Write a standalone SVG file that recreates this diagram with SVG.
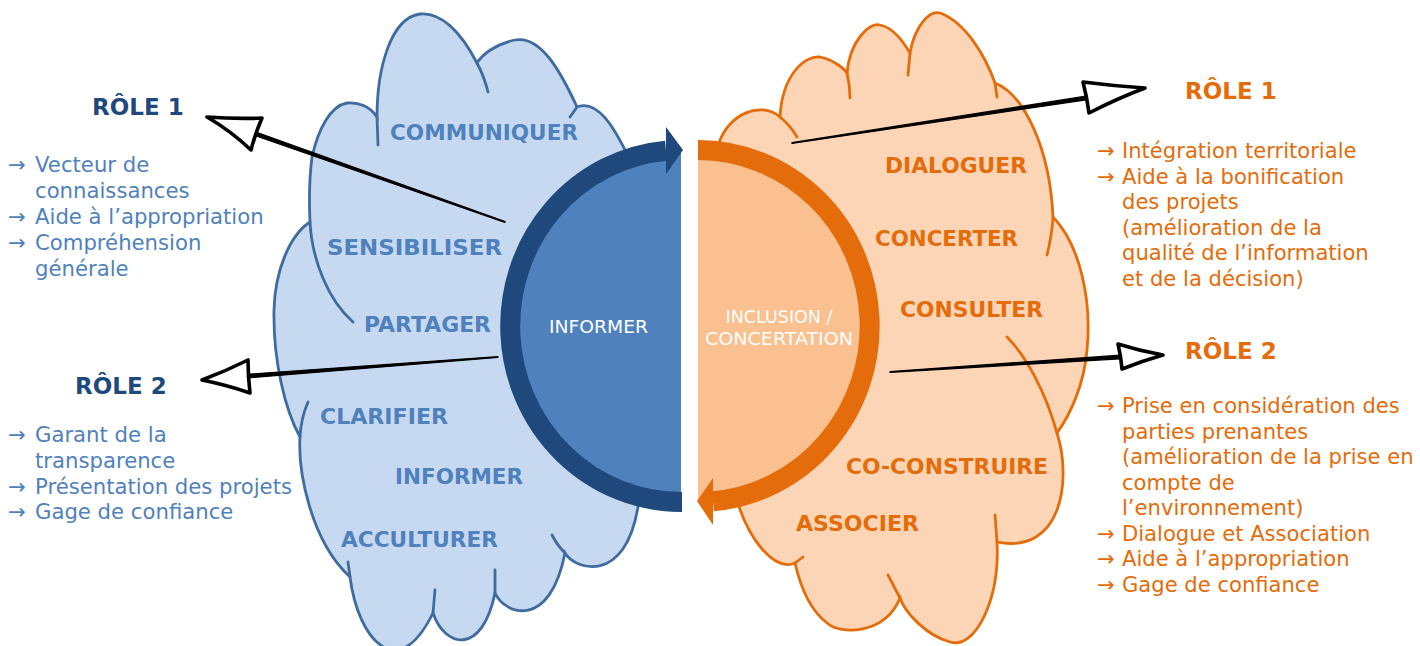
<svg xmlns="http://www.w3.org/2000/svg" width="1420" height="646" viewBox="0 0 1420 646">
<style>
.cfb{fill:#C6D9F1;stroke:none}
.cfo{fill:#FBD5B5;stroke:none}
.csb{fill:none;stroke:#3E6C9E;stroke-width:2.8;stroke-linecap:round}
.cso{fill:none;stroke:#E46C0A;stroke-width:2.8;stroke-linecap:round}
.lb{font-family:"DejaVu Sans",Verdana,sans-serif;font-weight:bold;font-size:21px;fill:#4F81BD}
.lo{font-family:"DejaVu Sans",Verdana,sans-serif;font-weight:bold;font-size:21px;fill:#E46C0A}
.hb{font-family:"DejaVu Sans",Verdana,sans-serif;font-weight:bold;font-size:23px;fill:#1F497D}
.ho{font-family:"DejaVu Sans",Verdana,sans-serif;font-weight:bold;font-size:23px;fill:#E46C0A}
.tb{font-family:"DejaVu Sans",Verdana,sans-serif;font-size:21.2px;fill:#4F81BD}
.to{font-family:"DejaVu Sans",Verdana,sans-serif;font-size:21.1px;fill:#E46C0A}
.w{font-family:"DejaVu Sans",Verdana,sans-serif;font-size:17.5px;fill:#FFFFFF}
.ptr{fill:#000;stroke:#000;stroke-width:1.2;stroke-linejoin:round}
.head{fill:#FFFFFF;stroke:#000;stroke-width:3.6;stroke-linejoin:round}
</style>

<g id="cloud-left">
<path class="cfb" d="M628 156 C613 125 598 102 580 106 L577 107 C560 70 540 35 515 40 C495 44 482 55 477 63 C460 30 440 12 420 14 C390 18 377 70 377 117 C370 106 358 102 347 103 C330 106 318 130 312 157 C309 180 309 200 310 222 C290 235 275 270 274 310 C273 360 285 410 300 437 C298 470 310 540 350 577 C358 640 398 685 433 613 C445 648 482 656 495 593 C505 615 550 630 565 553 C575 570 625 585 638 507 L660 480 L660 170 Z"/>
<path class="csb" d="M628 156 C613 125 598 102 580 106 L577 107 C560 70 540 35 515 40 C495 44 482 55 477 63 C460 30 440 12 420 14 C390 18 377 70 377 117 C370 106 358 102 347 103 C330 106 318 130 312 157 C309 180 309 200 310 222 C290 235 275 270 274 310 C273 360 285 410 300 437 C298 470 310 540 350 577 C358 640 398 685 433 613 C445 648 482 656 495 593 C505 615 550 630 565 553 C575 570 625 585 638 507"/>
<path class="csb" d="M570 117 L577 107 M477 63 Q484 76 488 92 M377 117 L378 145 M310 222 C312 260 328 300 353 322 M308 402 Q301 418 300 437 M348 562 L350 577 M435 590 L433 613 M495 570 L495 593 M552 535 Q557 545 565 553"/>
</g>

<g id="cloud-right">
<path class="cfo" d="M719 143 C728 115 760 100 780 117 C782 75 805 55 820 57 C835 60 845 70 847 73 C850 40 870 22 880 25 C895 28 905 45 910 53 C915 25 930 10 940 13 C965 22 985 55 995 83 C1025 95 1050 150 1053 217 C1080 245 1092 300 1087 350 C1084 385 1070 415 1057 433 C1072 480 1062 555 997 542 C1000 600 975 650 950 642 C925 635 905 612 900 598 C885 635 840 635 827 623 C810 610 800 585 795 563 C775 572 748 540 736 497 L705 480 L705 170 Z"/>
<path class="cso" d="M719 143 C728 115 760 100 780 117 C782 75 805 55 820 57 C835 60 845 70 847 73 C850 40 870 22 880 25 C895 28 905 45 910 53 C915 25 930 10 940 13 C965 22 985 55 995 83 C1025 95 1050 150 1053 217 C1080 245 1092 300 1087 350 C1084 385 1070 415 1057 433 C1072 480 1062 555 997 542 C1000 600 975 650 950 642 C925 635 905 612 900 598 C885 635 840 635 827 623 C810 610 800 585 795 563 C775 572 748 540 736 497"/>
<path class="cso" d="M780 117 Q790 125 797 137 M847 73 Q850 85 850 98 M910 53 L908 75 M995 83 L997 97 M1053 217 Q1052 235 1047 255 M1007 337 C1025 355 1045 390 1057 433 M995 515 L997 542 M888 575 L900 598 M803 557 L795 563"/>
</g>

<g id="informer-half">
<path d="M681 150 A171 176 0 0 0 681 502 Z" fill="#4F81BD"/>
<path d="M666 150.7 A171 176 0 0 0 682 502" fill="none" stroke="#1F497D" stroke-width="20"/>
<polygon points="666,127 683,150 666,174" fill="#1F497D"/>
<text class="w" x="549" y="333" textLength="99" lengthAdjust="spacingAndGlyphs">INFORMER</text>
</g>

<g id="inclusion-half">
<path d="M698 150 A172 176 0 0 1 698 502 Z" fill="#FAC090"/>
<path d="M698 150 A172 176 0 0 1 713 501.3" fill="none" stroke="#E46C0A" stroke-width="20"/>
<polygon points="713,478 697,501 713,525" fill="#E46C0A"/>
<text class="w" x="779" y="323" text-anchor="middle">INCLUSION /</text>
<text class="w" x="779" y="345" text-anchor="middle" textLength="148" lengthAdjust="spacingAndGlyphs">CONCERTATION</text>
</g>

<g id="labels-left">
<text class="lb" x="390" y="140" textLength="188" lengthAdjust="spacingAndGlyphs">COMMUNIQUER</text>
<text class="lb" x="327" y="255" textLength="175" lengthAdjust="spacingAndGlyphs">SENSIBILISER</text>
<text class="lb" x="364" y="332" textLength="127" lengthAdjust="spacingAndGlyphs">PARTAGER</text>
<text class="lb" x="320" y="424" textLength="128" lengthAdjust="spacingAndGlyphs">CLARIFIER</text>
<text class="lb" x="395" y="484" textLength="128" lengthAdjust="spacingAndGlyphs">INFORMER</text>
<text class="lb" x="341" y="547" textLength="157" lengthAdjust="spacingAndGlyphs">ACCULTURER</text>
</g>

<g id="labels-right">
<text class="lo" x="885" y="173" textLength="142" lengthAdjust="spacingAndGlyphs">DIALOGUER</text>
<text class="lo" x="875" y="246" textLength="143" lengthAdjust="spacingAndGlyphs">CONCERTER</text>
<text class="lo" x="900" y="317" textLength="143" lengthAdjust="spacingAndGlyphs">CONSULTER</text>
<text class="lo" x="846" y="474" textLength="202" lengthAdjust="spacingAndGlyphs">CO-CONSTRUIRE</text>
<text class="lo" x="796" y="531" textLength="123" lengthAdjust="spacingAndGlyphs">ASSOCIER</text>
</g>

<g id="role1-left">
<text class="hb" x="92" y="115">RÔLE 1</text>
<text class="tb"><tspan x="8" y="172">→</tspan><tspan x="35" y="172">Vecteur de</tspan><tspan x="35" y="198">connaissances</tspan><tspan x="8" y="224">→</tspan><tspan x="35" y="224">Aide à l’appropriation</tspan><tspan x="8" y="250">→</tspan><tspan x="35" y="250">Compréhension</tspan><tspan x="35" y="276">générale</tspan></text>
</g>

<g id="role2-left">
<text class="hb" x="75" y="394">RÔLE 2</text>
<text class="tb"><tspan x="8" y="442">→</tspan><tspan x="35" y="442">Garant de la</tspan><tspan x="35" y="468">transparence</tspan><tspan x="8" y="494">→</tspan><tspan x="35" y="494">Présentation des projets</tspan><tspan x="8" y="519">→</tspan><tspan x="35" y="519">Gage de confiance</tspan></text>
</g>

<g id="role1-right">
<text class="ho" x="1185" y="99">RÔLE 1</text>
<text class="to"><tspan x="1097" y="158">→</tspan><tspan x="1122" y="158">Intégration territoriale</tspan><tspan x="1097" y="184">→</tspan><tspan x="1122" y="184">Aide à la bonification</tspan><tspan x="1122" y="209">des projets</tspan><tspan x="1122" y="235">(amélioration de la</tspan><tspan x="1122" y="260">qualité de l’information</tspan><tspan x="1122" y="286">et de la décision)</tspan></text>
</g>

<g id="role2-right">
<text class="ho" x="1185" y="359">RÔLE 2</text>
<text class="to"><tspan x="1097" y="413">→</tspan><tspan x="1122" y="413">Prise en considération des</tspan><tspan x="1122" y="439">parties prenantes</tspan><tspan x="1122" y="464">(amélioration de la prise en</tspan><tspan x="1122" y="490">compte de</tspan><tspan x="1122" y="515">l’environnement)</tspan><tspan x="1097" y="541">→</tspan><tspan x="1122" y="541">Dialogue et Association</tspan><tspan x="1097" y="566">→</tspan><tspan x="1122" y="566">Aide à l’appropriation</tspan><tspan x="1097" y="592">→</tspan><tspan x="1122" y="592">Gage de confiance</tspan></text>
</g>

<g id="connectors">
<polygon class="ptr" points="505.1,221.6 256.6,132.3 255.4,135.7 504.9,222.4"/>
<path class="head" d="M207 117 Q235 119 262 118 Q255 134 251 150 Q231 131 207 117 Z"/>
<polygon class="ptr" points="498,356.6 248.9,374.2 249.1,377.8 498,357.4"/>
<path class="head" d="M202 380 Q226 371 248 360 Q248 376.5 250 393 Q227 385 202 380 Z"/>
<polygon class="ptr" points="792,142.6 1085.7,96.2 1086.3,99.8 792,143.4"/>
<path class="head" d="M1145 88 Q1114 86 1083 82 Q1087 97.5 1089 113 Q1116 99 1145 88 Z"/>
<polygon class="ptr" points="890,371.6 1119.9,355.2 1120.1,358.8 890,372.4"/>
<path class="head" d="M1163 355 Q1140 351 1118 344 Q1121 356.5 1122 369 Q1142 361 1163 355 Z"/>
</g>
</svg>
